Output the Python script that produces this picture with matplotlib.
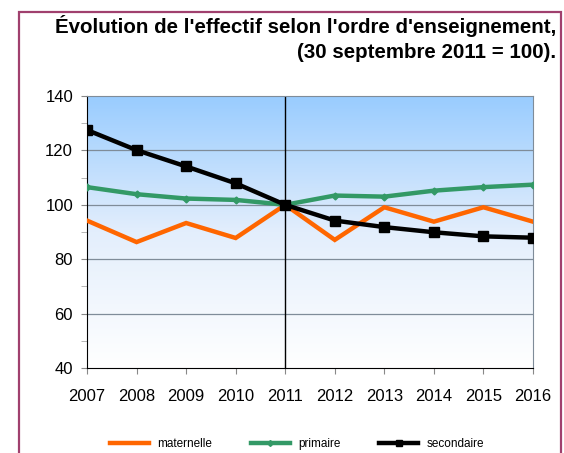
import numpy as np
import matplotlib
matplotlib.use("Agg")
import matplotlib.pyplot as plt
from matplotlib.colors import LinearSegmentedColormap
from matplotlib.patches import Rectangle
from matplotlib.lines import Line2D

plt.rcParams['font.family'] = ['Liberation Sans', 'DejaVu Sans']

years = [2007, 2008, 2009, 2010, 2011, 2012, 2013, 2014, 2015, 2016]
maternelle = [94.2, 86.3, 93.3, 87.8, 100, 87.1, 99.1, 93.8, 99.1, 93.8]
primaire = [106.5, 103.9, 102.3, 101.8, 100, 103.4, 103.0, 105.2, 106.5, 107.4]
secondaire = [127.5, 120.1, 114.1, 107.9, 100, 94.2, 91.8, 89.9, 88.4, 87.9]

W, H = 564, 453
fig = plt.figure(figsize=(W / 100, H / 100), dpi=100)

# outer frame
fig.patches.append(Rectangle((19 / W, -0.1), (561 - 19) / W, (H - 12) / H + 0.1,
                             transform=fig.transFigure, fill=False,
                             edgecolor='#a0406e', linewidth=1.6))

fig.text(556 / W, 1 - 26 / H, "Évolution de l'effectif selon l'ordre d'enseignement,",
         ha='right', va='center', fontsize=14.8, fontweight='bold')
fig.text(556 / W, 1 - 53 / H, "(30 septembre 2011 = 100).",
         ha='right', va='center', fontsize=14.8, fontweight='bold')

ax = fig.add_axes([87 / W, 1 - 368 / H, (533 - 87) / W, (368 - 96) / H])

# gradient background
cmap = LinearSegmentedColormap.from_list('bg', ['#ffffff', '#e3eefc', '#99ccff'])
grad = np.linspace(0, 1, 256).reshape(-1, 1)
ax.imshow(grad, aspect='auto', cmap=cmap, origin='lower',
          extent=[2007, 2016, 40, 140], zorder=0)

for v in [60, 80, 100, 120]:
    ax.axhline(v, color='#7f8c99', linewidth=0.9, zorder=1)
ax.axvline(2011, color='black', linewidth=1, zorder=2)

ax.plot(years, maternelle, color='#ff6600', linewidth=3.2, zorder=3,
        solid_joinstyle='miter')
ax.plot(years, primaire, color='#339966', linewidth=3.2, marker='D',
        markersize=3.5, zorder=4)
ax.plot(years, secondaire, color='black', linewidth=3.2, marker='s',
        markersize=6.5, zorder=5)

ax.set_xlim(2007, 2016)
ax.set_ylim(40, 140)
ax.set_xticks(years)
ax.set_yticks([40, 60, 80, 100, 120, 140])
ax.set_yticks(range(50, 140, 20), minor=True)
ax.tick_params(axis='both', labelsize=12, direction='out', length=4, width=0.8,
               colors='#888888', labelcolor='black')
ax.tick_params(axis='y', which='minor', length=4, colors='#aaaaaa')
ax.tick_params(axis='x', pad=11)
ax.tick_params(axis='y', pad=6)

ax.spines['left'].set_color('black')
ax.spines['bottom'].set_color('black')
ax.spines['top'].set_color('#7f8c99')
ax.spines['right'].set_color('#7f8c99')

handles = [
    Line2D([], [], color='#ff6600', linewidth=3.2),
    Line2D([], [], color='#339966', linewidth=3.2, marker='D', markersize=3),
    Line2D([], [], color='black', linewidth=3.2, marker='s', markersize=5),
]
fig.legend(handles, ['maternelle', 'primaire', 'secondaire'],
           loc='center', bbox_to_anchor=(297 / W, 1 - 444 / H), ncol=3,
           frameon=False, fontsize=8.5, handlelength=3.3, columnspacing=3.3,
           handletextpad=0.7)

fig.savefig('out.png', dpi=100)
